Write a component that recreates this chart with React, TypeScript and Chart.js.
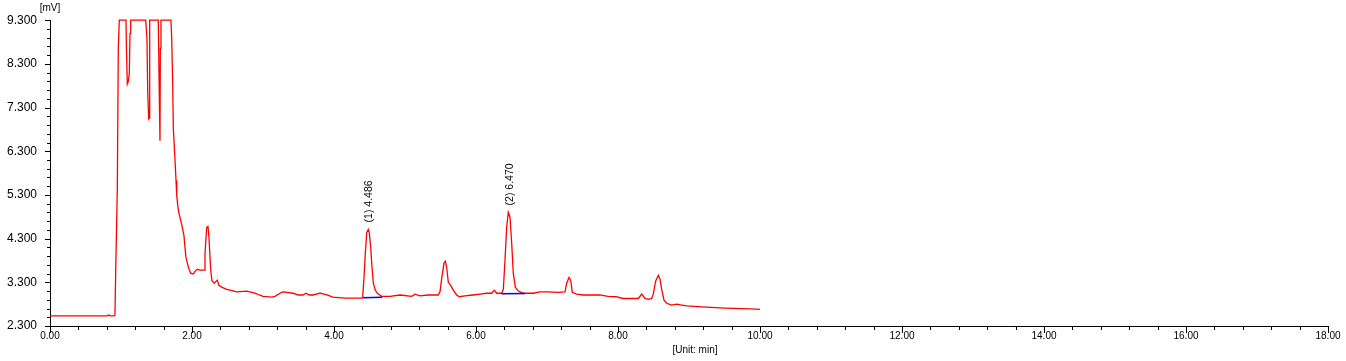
import React, { useEffect, useRef } from 'react';
import { Chart, registerables } from 'chart.js';

Chart.register(...registerables);

// Chromatogram trace: retention time (min) and detector signal (mV)
const timeMin = [
  0.0, 0.8, 0.83, 0.85, 0.9, 0.915, 0.925, 0.948, 0.962, 0.976,
  1.07, 1.077, 1.089, 1.103, 1.117, 1.127, 1.137, 1.348, 1.366, 1.376,
  1.39, 1.397, 1.404, 1.525, 1.539, 1.549, 1.554, 1.563, 1.704, 1.714,
  1.728, 1.737, 1.761, 1.775, 1.785, 1.799, 1.817, 1.841, 1.863, 1.887,
  1.901, 1.915, 1.934, 1.958, 1.982, 2.018, 2.042, 2.075, 2.113, 2.173,
  2.183, 2.207, 2.225, 2.239, 2.254, 2.268, 2.282, 2.314, 2.356, 2.38,
  2.418, 2.489, 2.535, 2.63, 2.77, 2.887, 2.948, 3.0, 3.127, 3.169,
  3.239, 3.282, 3.423, 3.493, 3.563, 3.606, 3.648, 3.704, 3.803, 3.901,
  3.986, 4.155, 4.394, 4.404, 4.423, 4.441, 4.461, 4.483, 4.497, 4.517,
  4.535, 4.554, 4.582, 4.61, 4.672, 4.789, 4.93, 5.094, 5.141, 5.211,
  5.324, 5.465, 5.493, 5.517, 5.549, 5.568, 5.587, 5.61, 5.644, 5.68,
  5.728, 5.765, 5.845, 5.958, 6.056, 6.151, 6.221, 6.258, 6.292, 6.362,
  6.385, 6.408, 6.432, 6.455, 6.479, 6.503, 6.525, 6.554, 6.596, 6.666,
  6.808, 6.901, 7.014, 7.159, 7.254, 7.277, 7.31, 7.334, 7.356, 7.418,
  7.508, 7.746, 7.859, 7.972, 8.07, 8.286, 8.334, 8.38, 8.427, 8.475,
  8.497, 8.531, 8.568, 8.592, 8.615, 8.648, 8.686, 8.756, 8.827, 8.897,
  8.968, 9.179, 9.507, 9.859, 10.0,
];
const signalMV = [
  2.53, 2.53, 2.55, 2.53, 2.53, 2.55, 3.55, 5.42, 8.66, 9.3,
  9.3, 8.62, 7.84, 7.9, 8.07, 9.0, 9.3, 9.3, 8.87, 7.68,
  7.04, 7.06, 9.3, 9.3, 7.64, 6.54, 8.66, 9.3, 9.3, 8.89,
  7.84, 6.82, 6.09, 5.63, 5.29, 5.06, 4.88, 4.72, 4.56, 4.37,
  4.1, 3.87, 3.74, 3.6, 3.51, 3.49, 3.55, 3.6, 3.58, 3.58,
  3.96, 4.56, 4.58, 4.33, 3.85, 3.51, 3.33, 3.28, 3.35, 3.23,
  3.19, 3.14, 3.12, 3.08, 3.1, 3.05, 3.01, 2.98, 2.96, 2.98,
  3.05, 3.08, 3.05, 3.01, 3.01, 3.05, 3.01, 3.01, 3.05, 3.01,
  2.96, 2.94, 2.94, 2.96, 3.42, 3.96, 4.44, 4.51, 4.44, 4.1,
  3.65, 3.28, 3.12, 3.05, 2.98, 2.98, 3.01, 2.98, 3.03, 2.99,
  3.01, 3.01, 3.08, 3.39, 3.74, 3.78, 3.65, 3.3, 3.23, 3.12,
  3.01, 2.97, 2.99, 3.01, 3.03, 3.05, 3.05, 3.12, 3.05, 3.05,
  3.14, 3.8, 4.56, 4.9, 4.79, 4.19, 3.51, 3.19, 3.1, 3.05,
  3.05, 3.08, 3.08, 3.07, 3.08, 3.28, 3.41, 3.35, 3.07, 3.03,
  3.01, 3.01, 2.98, 2.97, 2.93, 2.93, 3.03, 2.93, 2.91, 2.93,
  3.03, 3.33, 3.46, 3.37, 3.14, 2.89, 2.82, 2.78, 2.8, 2.78,
  2.76, 2.74, 2.71, 2.69, 2.68,
];

// Integration baselines under the two identified peaks
const baseline1Time = [4.41, 4.68];
const baseline1MV = [2.945, 2.96];
const baseline2Time = [6.36, 6.69];
const baseline2MV = [3.04, 3.045];

// Peak annotations
const peakTimes = [4.486, 6.47];
const peakHeights = [4.51, 4.9];
const peakLabels = ['(1) 4.486', '(2) 6.470'];

// Axis ticks
const xTickValues = [0, 2, 4, 6, 8, 10, 12, 14, 16, 18];
const yTickValues = [2.3, 3.3, 4.3, 5.3, 6.3, 7.3, 8.3, 9.3];
const xMinorStep = 0.4;
const yMinorStep = 0.2;
const yUnitLabel = '[mV]';
const xUnitLabel = '[Unit: min]';

const FONT = "'Liberation Sans', Arial, sans-serif";
const TEXT_COLOR = '#000';

const toPoints = (xs: number[], ys: number[]) => xs.map((x, i) => ({ x, y: ys[i] }));

const decorPlugin = {
  id: 'decor',
  afterDraw(chart: any) {
    const { ctx, chartArea } = chart;
    const xs = chart.scales.x;
    const ys = chart.scales.y;
    ctx.save();
    ctx.strokeStyle = '#000';
    ctx.lineWidth = 1;
    ctx.beginPath();
    // x ticks
    const xMin = xs.min, xMax = xs.max;
    const nx = Math.round((xMax - xMin) / xMinorStep);
    for (let i = 0; i <= nx; i++) {
      const v = xMin + i * xMinorStep;
      const px = Math.round(xs.getPixelForValue(v)) + 0.5;
      const len = i % 5 === 0 ? 7 : 4;
      ctx.moveTo(px, chartArea.bottom);
      ctx.lineTo(px, chartArea.bottom + len);
    }
    // y ticks
    const yMin = ys.min, yMax = ys.max;
    const ny = Math.round((yMax - yMin) / yMinorStep);
    for (let i = 0; i <= ny; i++) {
      const v = yMin + i * yMinorStep;
      const py = Math.round(ys.getPixelForValue(v)) + 0.5;
      const len = i % 5 === 0 ? 5 : 3;
      ctx.moveTo(chartArea.left, py);
      ctx.lineTo(chartArea.left - len, py);
    }
    ctx.stroke();

    // peak labels
    ctx.fillStyle = TEXT_COLOR;
    ctx.font = `10.5px ${FONT}`;
    peakLabels.forEach((lab, i) => {
      const px = xs.getPixelForValue(peakTimes[i]);
      const py = ys.getPixelForValue(peakHeights[i]);
      ctx.save();
      ctx.translate(px + 0.5, py - 7);
      ctx.rotate(-Math.PI / 2);
      ctx.textAlign = 'left';
      ctx.textBaseline = 'middle';
      ctx.fillText(lab, 0, 0);
      ctx.restore();
    });

    // unit labels
    ctx.font = `10px ${FONT}`;
    ctx.textAlign = 'center';
    ctx.textBaseline = 'middle';
    ctx.fillText(yUnitLabel, chartArea.left, 8);
    ctx.fillText(xUnitLabel, (chartArea.left + chartArea.right) / 2 + 6, 350);
    ctx.restore();
  },
};

export default function App() {
  const canvasRef = useRef<HTMLCanvasElement | null>(null);

  useEffect(() => {
    document.body.style.margin = '0';
    const canvas = canvasRef.current;
    if (!canvas) return;
    const chart = new Chart(canvas, {
      type: 'line',
      data: {
        datasets: [
          {
            data: toPoints(baseline1Time, baseline1MV),
            borderColor: '#0000ff',
            borderWidth: 1.5,
            pointRadius: 0,
          },
          {
            data: toPoints(baseline2Time, baseline2MV),
            borderColor: '#0000ff',
            borderWidth: 1.5,
            pointRadius: 0,
          },
          {
            data: toPoints(timeMin, signalMV),
            borderColor: '#ff0000',
            borderWidth: 1.3,
            pointRadius: 0,
            tension: 0,
            clip: 3,
          },
        ],
      },
      options: {
        responsive: false,
        animation: false,
        events: [],
        layout: { padding: { top: 19, right: 18, left: 0, bottom: 0 } },
        plugins: { legend: { display: false }, tooltip: { enabled: false } },
        scales: {
          x: {
            type: 'linear',
            min: 0,
            max: 18,
            afterBuildTicks: (s: any) => {
              s.ticks = xTickValues.map((v) => ({ value: v }));
            },
            afterFit: (s: any) => {
              s.height = 35;
            },
            grid: { display: false, drawTicks: false, tickLength: 0 },
            border: { display: true, color: '#000', width: 1 },
            ticks: {
              autoSkip: false,
              maxRotation: 0,
              padding: 4,
              color: TEXT_COLOR,
              font: { family: FONT, size: 10 },
              callback: (v: any) => Number(v).toFixed(2),
            },
          },
          y: {
            type: 'linear',
            min: 2.3,
            max: 9.3,
            afterBuildTicks: (s: any) => {
              s.ticks = yTickValues.map((v) => ({ value: v }));
            },
            afterFit: (s: any) => {
              s.width = 50;
            },
            grid: { display: false, drawTicks: false, tickLength: 0 },
            border: { display: true, color: '#000', width: 1 },
            ticks: {
              autoSkip: false,
              padding: 13,
              color: TEXT_COLOR,
              font: { family: FONT, size: 12 },
              callback: (v: any) => Number(v).toFixed(3),
            },
          },
        },
      },
      plugins: [decorPlugin],
    });
    return () => chart.destroy();
  }, []);

  return (
    <div style={{ width: 1346, height: 361, background: '#fff' }}>
      <canvas ref={canvasRef} width={1346} height={361} style={{ display: 'block' }} />
    </div>
  );
}
